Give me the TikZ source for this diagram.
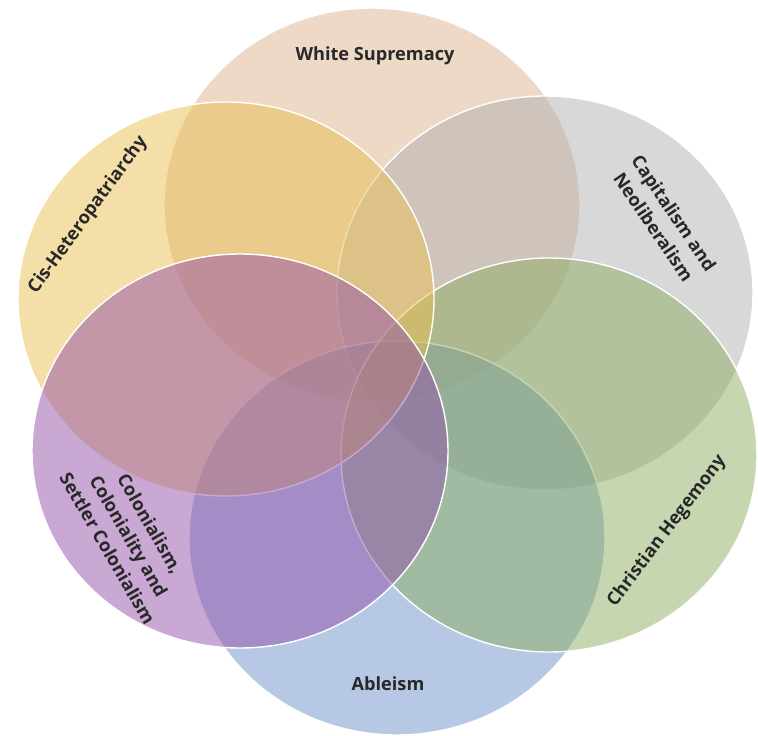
\documentclass[tikz,border=0pt]{standalone}
\usepackage{fontspec}
\setmainfont{Open Sans}
\begin{document}
\begin{tikzpicture}[x=0.03cm,y=-0.03cm,
  lbl/.style={font=\fontsize{15.5}{21}\selectfont\bfseries, text=txt, align=center, inner sep=0pt},
  ring/.style={draw=white, line width=1.2pt, fill opacity=0.5}]
\definecolor{cWS}{RGB}{221,177,141}
\definecolor{cCap}{RGB}{177,177,177}
\definecolor{cCH}{RGB}{141,173,97}
\definecolor{cAb}{RGB}{109,145,201}
\definecolor{cCol}{RGB}{147,81,169}
\definecolor{cCis}{RGB}{233,191,81}
\definecolor{txt}{RGB}{40,40,40}
\useasboundingbox (0,0) rectangle (758,736);
\coordinate (ws) at (372,205);
\coordinate (cap) at (545,293);
\coordinate (ch) at (549,455);
\coordinate (ab) at (397,538);
\coordinate (col) at (240,451);
\coordinate (cis) at (226,299);
\path[ring, fill=cWS] (ws) ellipse [x radius=208, y radius=197];
\path[ring, fill=cCap] (cap) ellipse [x radius=208, y radius=197];
\path[ring, fill=cAb] (ab) ellipse [x radius=208, y radius=197];
\path[ring, fill=cCH] (ch) ellipse [x radius=208, y radius=197];
\path[ring, fill=cCis] (cis) ellipse [x radius=208, y radius=197];
\path[ring, fill=cCol] (col) ellipse [x radius=208, y radius=197];
\node[lbl] (tws) at (375,56) {White Supremacy};
\node[lbl, rotate=54] (tcis) at (88,215) {Cis-Heteropatriarchy};
\node[lbl, rotate=-56] (tcap) at (664,220) {Capitalism and\\Neoliberalism};
\node[lbl, rotate=53] (tch) at (667,531) {Christian Hegemony};
\node[lbl] (tab) at (388,684) {Ableism};
\node[lbl, rotate=-60] (tcol) at (129,536) {Colonialism,\\Coloniality and\\Settler Colonialism};
\end{tikzpicture}
\end{document}
